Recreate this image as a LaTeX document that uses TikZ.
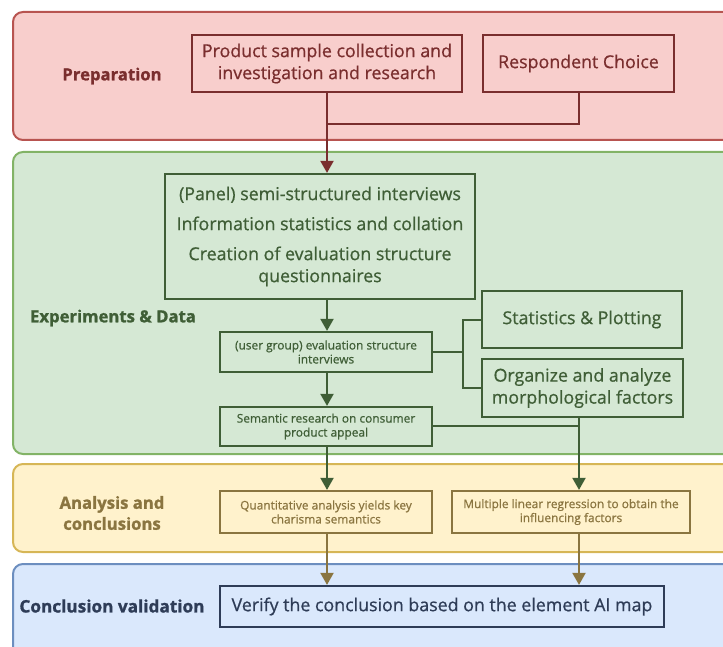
\documentclass[tikz,border=0pt]{standalone}
\usepackage{fontspec}
\setmainfont{Open Sans}[UprightFeatures={FakeBold=0.7},BoldFeatures={FakeBold=1.2}]
\usetikzlibrary{arrows.meta,calc}
\definecolor{redfill}{HTML}{F8CECC}
\definecolor{redline}{HTML}{B85450}
\definecolor{reddark}{HTML}{7A2E2E}
\definecolor{grfill}{HTML}{D5E8D4}
\definecolor{grline}{HTML}{82B366}
\definecolor{grdark}{HTML}{3F5E36}
\definecolor{yefill}{HTML}{FFF2CC}
\definecolor{yeline}{HTML}{D6B656}
\definecolor{yedark}{HTML}{8A7540}
\definecolor{blfill}{HTML}{DAE8FC}
\definecolor{blline}{HTML}{6C8EBF}
\definecolor{bldark}{HTML}{2E3C57}
\tikzset{
  band/.style={rounded corners=10pt,line width=2pt},
  box/.style={draw,line width=2.2pt,align=center,inner sep=0pt,font=\fontsize{17.8}{22}\selectfont},
  smallbox/.style={box,font=\fontsize{11.9}{14}\selectfont},
  lab/.style={align=center,font=\bfseries\fontsize{16.7}{21}\selectfont},
  conn/.style={line width=2pt},
  arr/.style={conn,-{Triangle[width=13pt,length=12pt]}},
}
\begin{document}
\begin{tikzpicture}[x=1pt,y=-1pt]
\useasboundingbox (0,0) rectangle (723,647);
\clip (0,0) rectangle (723,647);
% bands
\draw[band,fill=redfill,draw=redline] (13,12) rectangle (780,140);
\draw[band,fill=grfill,draw=grline] (13,152) rectangle (780,454);
\draw[band,fill=yefill,draw=yeline] (13,464) rectangle (780,552);
\draw[band,fill=blfill,draw=blline] (13,564) rectangle (780,700);
% labels
\node[lab,text=reddark] (lprep) at (112,76) {Preparation};
\node[lab,text=grdark] (lexp) at (113,318) {Experiments \& Data};
\node[lab,text=yedark] (lana) at (112,513) {Analysis and\\conclusions};
\node[lab,text=bldark,font=\bfseries\fontsize{17.2}{21}\selectfont] (lcon) at (112,606) {Conclusion validation};
% preparation boxes
\node[box,draw=reddark,text=reddark,minimum width=270pt,minimum height=57pt] (b1) at (327,63.5) {Product sample collection and\\investigation and research};
\node[box,draw=reddark,text=reddark,minimum width=191pt,minimum height=57pt] (b2) at (578.5,63.5) {Respondent Choice};
% experiments
\node[box,draw=grdark,text=grdark,minimum width=310pt,minimum height=125pt] (b3) at (320,236.5) {(Panel) semi-structured interviews\\[8pt]Information statistics and collation\\[8pt]Creation of evaluation structure\\questionnaires};
\node[smallbox,draw=grdark,text=grdark,minimum width=212pt,minimum height=40pt] (b4) at (326,352) {(user group) evaluation structure\\interviews};
\node[box,draw=grdark,text=grdark,minimum width=200pt,minimum height=57pt] (b5) at (582,319.5) {Statistics \& Plotting};
\node[box,draw=grdark,text=grdark,minimum width=201pt,minimum height=58pt] (b6) at (582.5,388) {Organize and analyze\\morphological factors};
\node[smallbox,draw=grdark,text=grdark,minimum width=212pt,minimum height=39pt] (b7) at (326,426.5) {Semantic research on consumer\\product appeal};
% analysis
\node[smallbox,draw=yedark,text=yedark,minimum width=212pt,minimum height=42pt] (b8) at (326,512) {Quantitative analysis yields key\\charisma semantics};
\node[smallbox,draw=yedark,text=yedark,minimum width=238pt,minimum height=42pt] (b9) at (571,512) {Multiple linear regression to obtain the\\influencing factors};
% conclusion
\node[box,draw=bldark,text=bldark,minimum width=444pt,minimum height=41pt,font=\fontsize{17.8}{20}\selectfont] (b10) at (442,606.5) {Verify the conclusion based on the element AI map};
% connectors
\coordinate (j1) at (327,124);
\coordinate (j2) at (579,124);
\draw[conn,draw=reddark] (b2.south -| j2) -- (j2) -- (j1);
\draw[arr,draw=reddark,fill=reddark] (b1.south -| j1) -- (j1 |- b3.north);
\draw[arr,draw=grdark,fill=grdark] (b3.south -| j1) -- (j1 |- b4.north);
\draw[arr,draw=grdark,fill=grdark] (b4.south -| j1) -- (j1 |- b7.north);
\coordinate (j3) at (463,352);
\draw[conn,draw=grdark] (b4.east) -- (j3);
\draw[conn,draw=grdark,line cap=rect] (j3 |- b5.west) -- (j3 |- b6.west);
\draw[conn,draw=grdark] (j3 |- b5.west) -- (b5.west);
\draw[conn,draw=grdark] (j3 |- b6.west) -- (b6.west);
\coordinate (j4) at (579,426);
\draw[conn,draw=grdark] (b7.east |- j4) -- (j4);
\draw[arr,draw=grdark,fill=grdark] (b6.south -| j4) -- (j4 |- b9.north);
\draw[arr,draw=grdark,fill=grdark] (b7.south -| j1) -- (j1 |- b8.north);
\draw[arr,draw=yedark,fill=yedark] (b8.south -| j1) -- (j1 |- b10.north);
\draw[arr,draw=yedark,fill=yedark] (b9.south -| j4) -- (j4 |- b10.north);
\end{tikzpicture}
\end{document}
